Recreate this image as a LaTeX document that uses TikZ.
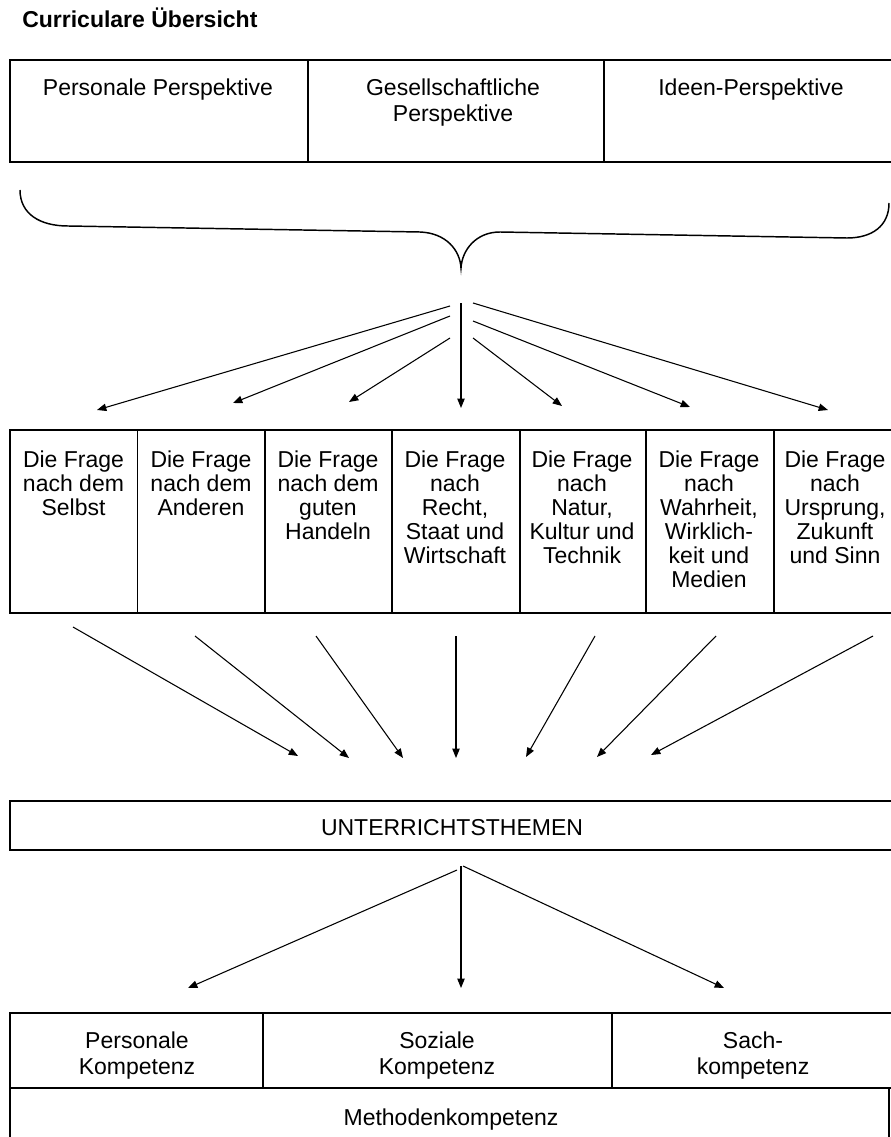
\documentclass[tikz,border=0pt]{standalone}
\usepackage{fontspec}
\setmainfont{Liberation Sans}
\usetikzlibrary{arrows.meta,fit}
\begin{document}
\begin{tikzpicture}[x=0.75pt,y=-0.75pt,
  cell/.style={draw, line width=1.2pt, inner sep=0pt, rectangle},
  lbl/.style={anchor=north, inner sep=0pt, align=center, font=\fontsize{17.25pt}{18pt}\selectfont},
  lbltop/.style={lbl, font=\fontsize{17.25pt}{19.5pt}\selectfont},
  lblbot/.style={lbl, font=\fontsize{17.25pt}{19.5pt}\selectfont},
  lblone/.style={anchor=base, inner sep=0pt, font=\fontsize{17.25pt}{18pt}\selectfont},
  arr/.style={-{Triangle[length=7pt,width=5.5pt]}, line width=0.8pt},
  bracestyle/.style={line width=1.1pt}
]
\useasboundingbox (0,0) rectangle (891,1137);

% title
\node[anchor=base west, inner sep=0pt, font=\bfseries\fontsize{17.25pt}{18pt}\selectfont] (title) at (22,28) {Curriculare Übersicht};

% top perspectives
\node[cell, fit={(10,60) (308,162)}] (p1) {};
\node[cell, fit={(308,60) (604,162)}] (p2) {};
\node[cell, fit={(604,60) (892,162)}] (p3) {};
\node[lbltop] (p1t) at (158,79) {Personale Perspektive};
\node[lbltop] (p2t) at (453,79) {Gesellschaftliche\\Perspektive};
\node[lbltop] (p3t) at (751,79) {Ideen-Perspektive};

% brace
\coordinate (bl) at (20,190);
\coordinate (btip) at (461,268);
\coordinate (br) at (889,203);
\draw[bracestyle] (bl) .. controls (20,214) and (40,226) .. (68,226)
  -- (420,232) .. controls (446,233) and (460,250) .. (btip)
  .. controls (462,250) and (476,232) .. (500,232)
  -- (847,238) .. controls (872,238) and (889,226) .. (br);

% questions
\node[cell, fit={(10,430) (137.5,613)}] (q1) {};
\node[cell, fit={(137.5,430) (265,613)}] (q2) {};
\node[cell, fit={(265,430) (392,613)}] (q3) {};
\node[cell, fit={(392,430) (520,613)}] (q4) {};
\node[cell, fit={(520,430) (646,613)}] (q5) {};
\node[cell, fit={(646,430) (774,613)}] (q6) {};
\node[cell, fit={(774,430) (892,613)}] (q7) {};
\node[lbl] (q1t) at (73.5,451) {Die Frage\\nach dem\\Selbst};
\node[lbl] (q2t) at (201,451) {Die Frage\\nach dem\\Anderen};
\node[lbl] (q3t) at (328,451) {Die Frage\\nach dem\\guten\\Handeln};
\node[lbl] (q4t) at (455,451) {Die Frage\\nach\\Recht,\\Staat und\\Wirtschaft};
\node[lbl] (q5t) at (582,451) {Die Frage\\nach\\Natur,\\Kultur und\\Technik};
\node[lbl] (q6t) at (709,451) {Die Frage\\nach\\Wahrheit,\\Wirklich-\\keit und\\Medien};
\node[lbl] (q7t) at (835,451) {Die Frage\\nach\\Ursprung,\\Zukunft\\und Sinn};

% arrows brace -> questions
\coordinate (s1) at (450,306); \coordinate (t1) at (97,410);
\coordinate (s2) at (450,316); \coordinate (t2) at (233,403);
\coordinate (s3) at (450,338); \coordinate (t3) at (349,402);
\coordinate (s4) at (461,303); \coordinate (t4) at (461,408);
\coordinate (s5) at (473,338); \coordinate (t5) at (562,406);
\coordinate (s6) at (473,321); \coordinate (t6) at (690,407);
\coordinate (s7) at (473,303); \coordinate (t7) at (828,410);
\foreach \i in {1,...,7} { \draw[arr] (s\i) -- (t\i); }

% arrows questions -> themes
\coordinate (u1) at (73,627);  \coordinate (v1) at (298,756);
\coordinate (u2) at (195,636); \coordinate (v2) at (349,758);
\coordinate (u3) at (316,636); \coordinate (v3) at (403,758);
\coordinate (u4) at (456,636); \coordinate (v4) at (456,758);
\coordinate (u5) at (595,636); \coordinate (v5) at (526,757);
\coordinate (u6) at (716,636); \coordinate (v6) at (597,757);
\coordinate (u7) at (873,636); \coordinate (v7) at (651,755);
\foreach \i in {1,...,7} { \draw[arr] (u\i) -- (v\i); }

% themes
\node[cell, fit={(10,801) (892,850)}] (themes) {};
\node[lblone] (themest) at (452,835) {UNTERRICHTSTHEMEN};

% arrows themes -> competences
\coordinate (w1) at (457,870); \coordinate (z1) at (188,988);
\coordinate (w2) at (461,866); \coordinate (z2) at (461,988);
\coordinate (w3) at (463,866); \coordinate (z3) at (724,988);
\foreach \i in {1,2,3} { \draw[arr] (w\i) -- (z\i); }

% competences
\node[cell, fit={(10,1013) (263,1088)}] (k1) {};
\node[cell, fit={(263,1013) (612,1088)}] (k2) {};
\node[cell, fit={(612,1013) (892,1088)}] (k3) {};
\node[cell, fit={(10,1088) (889,1140)}] (k4) {};
\node[lblbot] (k1t) at (137,1032) {Personale\\Kompetenz};
\node[lblbot] (k2t) at (437,1032) {Soziale\\Kompetenz};
\node[lblbot] (k3t) at (753,1032) {Sach-\\kompetenz};
\node[lblone] (k4t) at (451,1125) {Methodenkompetenz};
\end{tikzpicture}
\end{document}
